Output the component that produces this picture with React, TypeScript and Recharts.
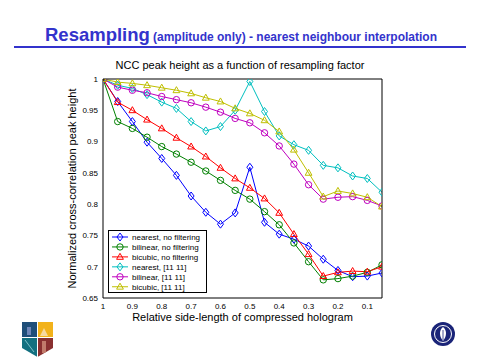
import React from 'react';
import { LineChart, Line, XAxis, YAxis, Legend, Label } from 'recharts';

const FONT = '"Liberation Sans", Arial, Helvetica, sans-serif';

const factors = [1, 0.95, 0.9, 0.85, 0.8, 0.75, 0.7, 0.65, 0.6, 0.55, 0.5, 0.45, 0.4, 0.35, 0.3, 0.25, 0.2, 0.15, 0.1, 0.05];
const nearestNoFilter = [1.0, 0.964, 0.932, 0.899, 0.873, 0.846, 0.813, 0.787, 0.768, 0.786, 0.859, 0.771, 0.752, 0.744, 0.733, 0.712, 0.694, 0.684, 0.685, 0.69];
const bilinearNoFilter = [1.0, 0.932, 0.921, 0.907, 0.892, 0.88, 0.867, 0.853, 0.838, 0.822, 0.808, 0.788, 0.767, 0.738, 0.708, 0.679, 0.681, 0.685, 0.691, 0.703];
const bicubicNoFilter = [1.0, 0.963, 0.95, 0.935, 0.921, 0.906, 0.892, 0.876, 0.858, 0.841, 0.826, 0.809, 0.786, 0.752, 0.72, 0.685, 0.691, 0.693, 0.692, 0.7];
const nearestFiltered = [1.0, 0.99, 0.985, 0.975, 0.963, 0.953, 0.932, 0.917, 0.924, 0.95, 0.996, 0.948, 0.909, 0.895, 0.886, 0.862, 0.858, 0.845, 0.841, 0.819];
const bilinearFiltered = [1.0, 0.987, 0.982, 0.978, 0.972, 0.967, 0.962, 0.955, 0.947, 0.937, 0.93, 0.914, 0.893, 0.864, 0.831, 0.808, 0.811, 0.812, 0.806, 0.797];
const bicubicFiltered = [1.0, 0.995, 0.993, 0.99, 0.986, 0.982, 0.977, 0.97, 0.964, 0.953, 0.945, 0.934, 0.916, 0.887, 0.85, 0.812, 0.821, 0.817, 0.811, 0.796];

const xTicks = [1, 0.9, 0.8, 0.7, 0.6, 0.5, 0.4, 0.3, 0.2, 0.1];
const yTicks = [0.65, 0.7, 0.75, 0.8, 0.85, 0.9, 0.95, 1];

const seriesNames = [
  'nearest, no filtering',
  'bilinear, no filtering',
  'bicubic, no filtering',
  'nearest, [11 11]',
  'bilinear, [11 11]',
  'bicubic, [11 11]',
];
const seriesKeys = ['nnf', 'bnf', 'cnf', 'nf', 'bf', 'cf'];
const seriesValues = [nearestNoFilter, bilinearNoFilter, bicubicNoFilter, nearestFiltered, bilinearFiltered, bicubicFiltered];
const seriesColors = ['#0000ff', '#008000', '#ff0000', '#00bfbf', '#bf00bf', '#bfbf00'];
const seriesMarkers = ['diamond', 'circle', 'triangle', 'diamond', 'circle', 'triangle'];

const data = factors.map((f, i) => {
  const row: Record<string, number> = { x: f };
  seriesKeys.forEach((k, s) => {
    row[k] = seriesValues[s][i];
  });
  return row;
});

function markerShape(kind: string, cx: number, cy: number, color: string, key?: any) {
  if (kind === 'diamond') {
    return (
      <path key={key} d={`M${cx},${cy - 4}L${cx + 3},${cy}L${cx},${cy + 4}L${cx - 3},${cy}Z`} fill="none" stroke={color} strokeWidth={1} />
    );
  }
  if (kind === 'circle') {
    return <circle key={key} cx={cx} cy={cy} r={3.2} fill="none" stroke={color} strokeWidth={1} />;
  }
  return (
    <path key={key} d={`M${cx},${cy - 3.6}L${cx + 3.4},${cy + 2.4}L${cx - 3.4},${cy + 2.4}Z`} fill="none" stroke={color} strokeWidth={1} />
  );
}

const makeDot = (kind: string, color: string) => (props: any) => {
  const { cx, cy, index } = props;
  if (cx == null || cy == null) return <g key={`e${index}`} />;
  return markerShape(kind, cx, cy, color, `d${index}`);
};

const LegendBox = () => (
  <svg width={100} height={63} style={{ display: 'block', fontFamily: FONT }}>
    <rect x={0.5} y={0.5} width={98} height={62} fill="#fff" stroke="#000" strokeWidth={1} />
    {seriesNames.map((name, i) => {
      const cy = 7 + i * 9.95;
      return (
        <g key={name}>
          <line x1={4} x2={20} y1={cy} y2={cy} stroke={seriesColors[i]} strokeWidth={1} />
          {markerShape(seriesMarkers[i], 12, cy, seriesColors[i])}
          <text x={24} y={cy + 3} fontSize={8} fill="#000">
            {name}
          </text>
        </g>
      );
    })}
  </svg>
);

const axisProps = {
  type: 'number' as const,
  allowDataOverflow: true,
};

export default function App() {
  return (
    <div style={{ position: 'absolute', left: 0, top: 0, width: 480, height: 360, background: '#fff', fontFamily: FONT }}>
      <svg width={480} height={80} style={{ position: 'absolute', left: 0, top: 0 }}>
        <text x={45} y={41} fontSize={18.5} fontWeight="bold" fill="#3333cc" fontFamily={FONT}>
          Resampling
        </text>
        <text x={153} y={41} fontSize={12} fontWeight="bold" fill="#3333cc" fontFamily={FONT}>
          (amplitude only) - nearest neighbour interpolation
        </text>
        <rect x={14} y={46} width={452} height={2} fill="#3333cc" />
        <text x={240} y={69} fontSize={11} textAnchor="middle" fill="#000" fontFamily={FONT}>
          NCC peak height as a function of resampling factor
        </text>
      </svg>
      <div style={{ position: 'absolute', left: 0, top: 0 }}>
        <LineChart width={480} height={360} data={data} margin={{ top: 79, right: 98, bottom: 34, left: 63 }} style={{ fontFamily: FONT }}>
          <XAxis
            {...axisProps}
            xAxisId="b"
            dataKey="x"
            domain={[0.05, 1]}
            reversed
            ticks={xTicks}
            interval={0}
            tickLine={false}
            tickSize={0}
            tickMargin={5}
            height={28}
            axisLine={{ stroke: '#000' }}
            tick={{ fontSize: 8, fill: '#000' }}
          >
            <Label value="Relative side-length of compressed hologram" position="insideBottom" offset={5} style={{ fontSize: 11, fill: '#000' }} />
          </XAxis>
          <XAxis
            {...axisProps}
            xAxisId="t"
            orientation="top"
            mirror
            domain={[0.05, 1]}
            reversed
            ticks={xTicks}
            interval={0}
            tick={false}
            tickSize={4}
            axisLine={{ stroke: '#000' }}
            tickLine={{ stroke: '#000' }}
          />
          <XAxis
            {...axisProps}
            xAxisId="b2"
            orientation="bottom"
            mirror
            domain={[0.05, 1]}
            reversed
            ticks={xTicks}
            interval={0}
            tick={false}
            tickSize={4}
            axisLine={false}
            tickLine={{ stroke: '#000' }}
          />
          <YAxis
            {...axisProps}
            yAxisId="l"
            domain={[0.65, 1]}
            ticks={yTicks}
            interval={0}
            width={40}
            tickLine={false}
            tickSize={0}
            tickMargin={5}
            axisLine={{ stroke: '#000' }}
            tick={{ fontSize: 8, fill: '#000' }}
          >
            <Label
              value="Normalized cross-correlation peak height"
              angle={-90}
              position="insideLeft"
              offset={9}
              style={{ fontSize: 11, fill: '#000', textAnchor: 'middle' }}
            />
          </YAxis>
          <YAxis
            {...axisProps}
            yAxisId="r"
            orientation="right"
            mirror
            domain={[0.65, 1]}
            ticks={yTicks}
            interval={0}
            tick={false}
            tickSize={4}
            axisLine={{ stroke: '#000' }}
            tickLine={{ stroke: '#000' }}
          />
          <YAxis
            {...axisProps}
            yAxisId="l2"
            orientation="left"
            mirror
            domain={[0.65, 1]}
            ticks={yTicks}
            interval={0}
            tick={false}
            tickSize={4}
            axisLine={false}
            tickLine={{ stroke: '#000' }}
          />
          {seriesKeys.map((k, i) => (
            <Line
              key={k}
              xAxisId="b"
              yAxisId="l"
              type="linear"
              dataKey={k}
              name={seriesNames[i]}
              stroke={seriesColors[i]}
              strokeWidth={1}
              dot={makeDot(seriesMarkers[i], seriesColors[i])}
              activeDot={false}
              isAnimationActive={false}
            />
          ))}
          <Legend
            layout="horizontal"
            verticalAlign="middle"
            align="center"
            wrapperStyle={{ left: 108, top: 230, width: 100, height: 63 }}
            content={() => <LegendBox />}
          />
        </LineChart>
      </div>
      <svg width={480} height={360} style={{ position: 'absolute', left: 0, top: 0, pointerEvents: 'none' }}>
        <defs>
          <clipPath id="shield">
            <path d="M22,322 L53,322 L53,348 L37.5,357 L22,348 Z" />
          </clipPath>
        </defs>
        <g clipPath="url(#shield)">
          <rect x={22} y={322} width={15.5} height={15.5} fill="#1f4e79" />
          <rect x={37.5} y={322} width={15.5} height={15.5} fill="#f2b21b" />
          <rect x={22} y={337.5} width={15.5} height={20} fill="#137080" />
          <rect x={37.5} y={337.5} width={15.5} height={20} fill="#8a3030" />
          <rect x={27} y={327} width={4} height={8} fill="#6f86b8" />
          <path d="M40,336 L44,328 L48,336 Z" fill="#f7d9a0" />
          <path d="M25,340 L34,352" stroke="#7fc0c8" strokeWidth={1} />
          <rect x={42} y={341} width={4} height={12} fill="#c27b6b" />
        </g>
        <path d="M22,337.5 L53,337.5 M37.5,322 L37.5,357" stroke="#fff" strokeWidth={1} />
        <circle cx={443} cy={334} r={12} fill="#1a2478" />
        <circle cx={443} cy={334} r={8.5} fill="none" stroke="#fff" strokeWidth={1} />
        <path d="M443,327 C447,330 447,336 443,341 C439,336 439,330 443,327 Z" fill="#fff" />
        <path d="M443,330 L443,340" stroke="#1a2478" strokeWidth={0.8} />
      </svg>
    </div>
  );
}
